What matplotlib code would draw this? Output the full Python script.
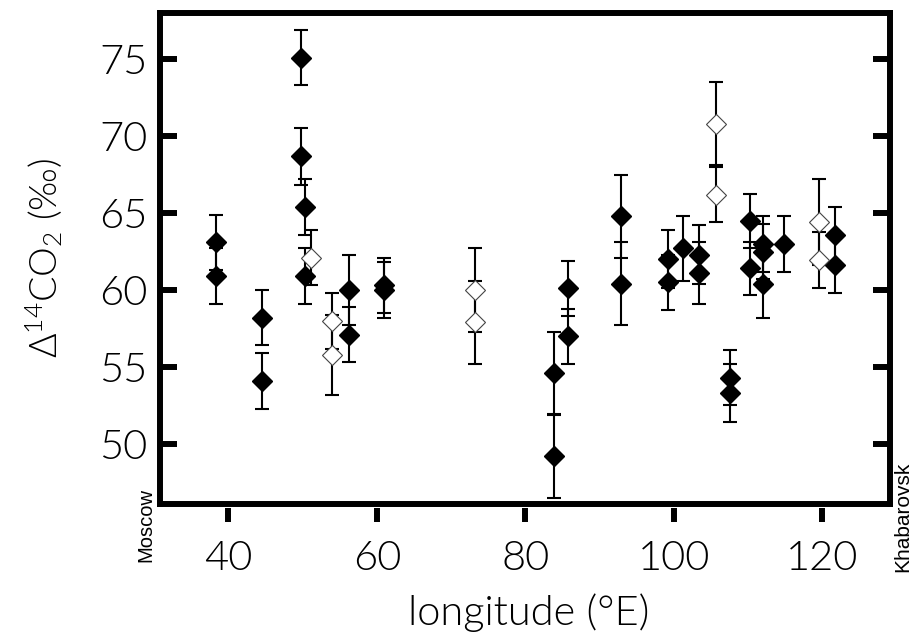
import matplotlib
matplotlib.use("Agg")
import matplotlib.pyplot as plt

# filled diamonds: longitude, delta14CO2, error
lon_f = [38.3, 38.3, 44.6, 44.6, 49.8, 49.8, 50.3, 50.3, 56.3, 56.3, 61.0, 61.0,
         83.8, 83.8, 85.7, 85.7, 92.9, 92.9, 99.2, 99.2, 101.2, 103.4, 103.4,
         107.5, 107.5, 110.3, 110.3, 112.0, 112.0, 112.0, 114.8, 121.7, 121.7]
d14_f = [63.1, 60.9, 58.2, 54.1, 75.1, 68.7, 65.4, 60.9, 60.0, 57.1, 60.3, 60.0,
         54.6, 49.2, 60.1, 57.0, 64.8, 60.4, 62.0, 60.5, 62.7, 62.3, 61.1,
         54.3, 53.3, 64.5, 61.4, 63.0, 62.5, 60.4, 63.0, 63.6, 61.6]
err_f = [1.8, 1.8, 1.8, 1.8, 1.8, 1.85, 1.8, 1.8, 2.3, 1.8, 1.8, 1.8,
         2.65, 2.7, 1.8, 1.8, 2.7, 2.7, 1.9, 1.8, 2.1, 1.9, 2.0,
         1.8, 1.9, 1.75, 1.75, 1.8, 1.8, 2.2, 1.8, 1.8, 1.8]

# open diamonds
lon_o = [51.2, 54.0, 54.0, 73.2, 73.2, 105.6, 105.6, 119.5, 119.5]
d14_o = [62.1, 58.0, 55.8, 60.0, 57.9, 70.8, 66.2, 64.4, 61.95]
err_o = [1.8, 1.8, 2.6, 2.7, 2.7, 2.7, 1.8, 2.8, 1.8]

xticks = [40, 60, 80, 100, 120]
yticks = [50, 55, 60, 65, 70, 75]

plt.rcParams['font.family'] = ['Lato', 'DejaVu Sans']
plt.rcParams['font.weight'] = 300
plt.rcParams['axes.labelweight'] = 300
plt.rcParams['mathtext.fontset'] = 'custom'
plt.rcParams['mathtext.rm'] = 'Lato:weight=300'
plt.rcParams['mathtext.default'] = 'regular'

fig = plt.figure(figsize=(9.11, 6.43), dpi=100)
ax = fig.add_axes([0.1756, 0.2162, 0.8014, 0.7636])

ax.errorbar(lon_f, d14_f, yerr=err_f, fmt='none', ecolor='k', elinewidth=1.5,
            capsize=5, capthick=1.5, zorder=2)
ax.errorbar(lon_o, d14_o, yerr=err_o, fmt='none', ecolor='k', elinewidth=1.5,
            capsize=5, capthick=1.5, zorder=2)
ax.plot(lon_f, d14_f, 'D', ms=10.3, mfc='k', mec='k', mew=1, zorder=3)
ax.plot(lon_o, d14_o, 'D', ms=10.3, mfc='white', mec='#444444', mew=0.8, zorder=3)

ax.set_xlim(30.8, 129.1)
ax.set_ylim(46.1, 78.0)
ax.set_xticks(xticks)
ax.set_yticks(yticks)

lw = 4.3
for s in ['left', 'right', 'top']:
    ax.spines[s].set_linewidth(lw)
ax.spines['bottom'].set_position(('outward', 3))
ax.spines['bottom'].set_visible(False)
ax.plot([0, 1], [0, 0], transform=ax.transAxes, color='k', lw=lw,
        solid_capstyle='projecting', clip_on=False, zorder=5)

ax.tick_params(axis='y', which='major', direction='in', length=12, width=lw,
               left=True, right=True, labelsize=30, pad=9)
ax.tick_params(axis='x', which='major', direction='out', length=10, width=lw,
               top=False, labelsize=30, pad=13)

ax.set_xlabel('longitude (°E)', fontsize=30)
ax.xaxis.set_label_coords(0.505, -0.181)
ax.xaxis.label.set_va('top')
ax.set_ylabel('Δ$^{14}$CO$_2$ (‰)', fontsize=27)
ax.yaxis.set_label_coords(-0.13, 0.5)

fig.text(146 / 911, 1 - 525 / 643, 'Moscow', rotation=90, ha='center', va='center',
         fontsize=14.5, family='Liberation Sans', weight='normal')
fig.text(903 / 911, 1 - 517 / 643, 'Khabarovsk', rotation=90, ha='center', va='center',
         fontsize=15, family='Liberation Sans', weight='normal')

fig.savefig('out.png', dpi=100)
